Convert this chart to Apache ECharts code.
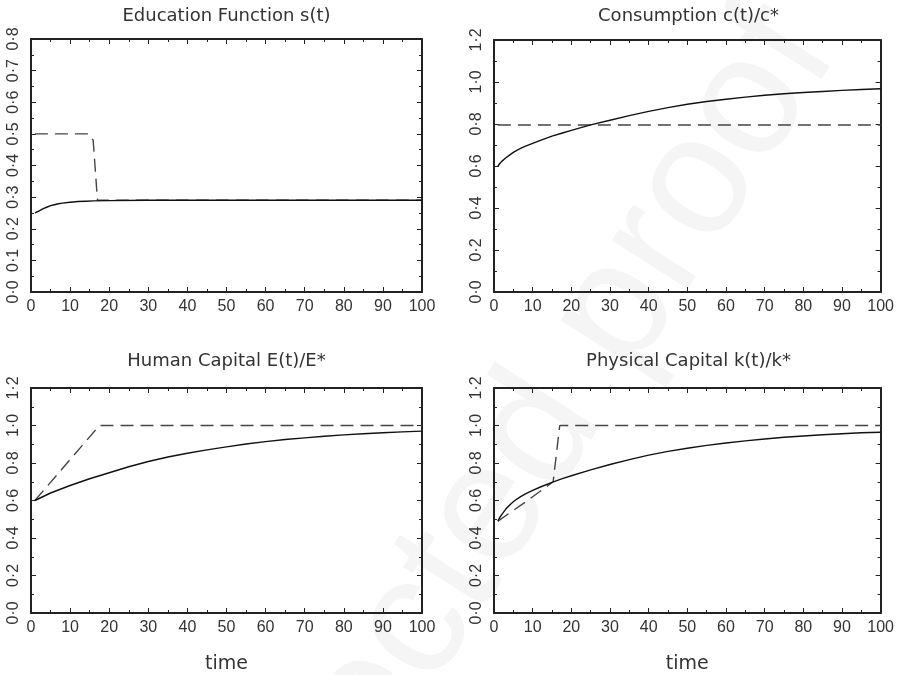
<!DOCTYPE html>
<html>
<head>
<meta charset="utf-8">
<script src="https://cdn.jsdelivr.net/npm/echarts@6/dist/echarts.min.js"></script>
<style>
html,body{margin:0;padding:0;background:#fff;}
#chart{width:897px;height:675px;}
</style>
</head>
<body>
<div id="chart"></div>
<script>
// ---- data ----
const panelTitles = ['Education Function s(t)', 'Consumption c(t)/c*', 'Human Capital E(t)/E*', 'Physical Capital k(t)/k*'];
const xTicks = [0, 10, 20, 30, 40, 50, 60, 70, 80, 90, 100];
const yTicksEdu = [0, 0.1, 0.2, 0.3, 0.4, 0.5, 0.6, 0.7, 0.8];
const yTicksRatio = [0, 0.2, 0.4, 0.6, 0.8, 1.0, 1.2];

const eduSolid = [[1,0.25],[1.5,0.252],[2,0.256],[3,0.263],[4,0.268],[5,0.273],[6,0.276],[7,0.279],[8,0.281],[10,0.284],[12,0.286],[14,0.287],[16,0.288],[20,0.289],[30,0.29],[50,0.29],[100,0.29]];
const eduDashed = [[1,0.5],[14.7,0.5],[15.9,0.48],[17,0.29],[100,0.29]];

const consSolid = [[1,0.6],[1.5,0.612],[2,0.622],[3,0.638],[4,0.652],[5,0.665],[6,0.676],[7,0.685],[8,0.693],[10,0.708],[12,0.722],[15,0.742],[17.5,0.756],[20,0.77],[25,0.796],[30,0.818],[35,0.84],[40,0.86],[45,0.878],[50,0.894],[55,0.907],[60,0.918],[65,0.928],[70,0.937],[75,0.944],[80,0.95],[85,0.955],[90,0.96],[95,0.964],[100,0.968]];
const consDashed = [[1,0.795],[100,0.795]];

const humSolid = [[1,0.6],[5,0.64],[10,0.68],[15,0.716],[20,0.748],[25,0.78],[30,0.808],[35,0.832],[40,0.852],[45,0.87],[50,0.886],[55,0.901],[60,0.914],[65,0.925],[70,0.934],[75,0.943],[80,0.95],[85,0.956],[90,0.961],[95,0.966],[100,0.97]];
const humDashed = [[1,0.6],[17.5,1.0],[100,1.0]];

const physSolid = [[1,0.49],[1.5,0.51],[2,0.525],[3,0.553],[4,0.575],[5,0.593],[6,0.609],[7,0.622],[8,0.634],[10,0.654],[12,0.672],[15,0.697],[17.5,0.715],[20,0.732],[25,0.763],[30,0.792],[35,0.818],[40,0.842],[45,0.862],[50,0.879],[55,0.894],[60,0.907],[65,0.918],[70,0.928],[75,0.937],[80,0.944],[85,0.951],[90,0.956],[95,0.961],[100,0.964]];
const physDashed = [[1,0.49],[8,0.59],[15.3,0.7],[17,1.0],[100,1.0]];

// ---- layout / style ----
const grids = [
  {left:31, top:39, width:391, height:253},
  {left:494, top:40, width:389, height:252},
  {left:31, top:388, width:391, height:231},
  {left:494, top:388, width:389, height:231}
];
const ink = '#222';
const textInk = '#333';
const tickFont = 'Liberation Sans';
const titleFont = 'DejaVu Sans';

function xAx(gi, pos, withName){
  return {
    type:'value', gridIndex:gi, position:pos,
    min:xTicks[0], max:xTicks[xTicks.length-1], interval:xTicks[1]-xTicks[0],
    axisLine:{show:true, onZero:false, lineStyle:{color:ink, width:2}},
    axisTick:{show:true, inside:true, length:5, lineStyle:{color:ink, width:1}},
    minorTick:{show:true, splitNumber:2, length:3, lineStyle:{color:ink, width:1}},
    splitLine:{show:false},
    axisLabel:{show:pos==='bottom', margin:7, color:textInk, fontFamily:tickFont, fontSize:16},
    name: withName ? 'time' : '',
    nameLocation:'middle', nameGap:42,
    nameTextStyle:{fontFamily:titleFont, fontSize:19, color:textInk}
  };
}
function yAx(gi, pos, ticks){
  return {
    type:'value', gridIndex:gi, position:pos,
    min:ticks[0], max:ticks[ticks.length-1], interval:ticks[1]-ticks[0],
    axisLine:{show:true, onZero:false, lineStyle:{color:ink, width:2}},
    axisTick:{show:true, inside:true, length:5, lineStyle:{color:ink, width:1}},
    minorTick:{show:true, splitNumber:2, length:3, lineStyle:{color:ink, width:1}},
    splitLine:{show:false},
    axisLabel:{show:pos==='left', rotate:90, margin:9, color:textInk, fontFamily:tickFont, fontSize:16,
      formatter: v => Number(v).toFixed(1).replace('.', '\u00B7')}
  };
}

const xAxes = [], yAxes = [];
for (let i=0;i<4;i++){
  xAxes.push(xAx(i,'bottom', i>=2));
  xAxes.push(xAx(i,'top', false));
  const t = i===0 ? yTicksEdu : yTicksRatio;
  yAxes.push(yAx(i,'left',t));
  yAxes.push(yAx(i,'right',t));
}

function solid(gi, data){
  return {type:'line', xAxisIndex:gi*2, yAxisIndex:gi*2, data:data, showSymbol:false, symbol:'none',
    smooth:false, lineStyle:{color:'#111', width:1.4}, z:3, animation:false};
}
function dashed(gi, data){
  return {type:'line', xAxisIndex:gi*2, yAxisIndex:gi*2, data:data, showSymbol:false, symbol:'none',
    lineStyle:{color:'#444', width:1.4, type:[13,7]}, z:2, animation:false};
}

const titleCenters = [[226.5,7],[688.5,7],[226.5,352],[688.5,352]];

const option = {
  backgroundColor:'#fff',
  animation:false,
  title: panelTitles.map((t,i)=>({
    text:t, left:titleCenters[i][0], top:titleCenters[i][1], textAlign:'center', padding:0,
    textStyle:{fontFamily:titleFont, fontSize:18, fontWeight:'normal', color:textInk}
  })),
  grid: grids,
  xAxis: xAxes,
  yAxis: yAxes,
  graphic: [{
    type:'text', x:433, y:600, rotation:1.002, z:-10, silent:true,
    style:{text:'Uncorrected proof', fontFamily:'Liberation Sans', fontSize:170, fill:'#f5f5f5',
      align:'center', verticalAlign:'middle', textAlign:'center', textVerticalAlign:'middle'}
  }],
  series: [
    dashed(0, eduDashed), solid(0, eduSolid),
    dashed(1, consDashed), solid(1, consSolid),
    dashed(2, humDashed), solid(2, humSolid),
    dashed(3, physDashed), solid(3, physSolid)
  ]
};

const chart = echarts.init(document.getElementById('chart'), null, {renderer:'canvas'});
chart.setOption(option);
</script>
</body>
</html>
